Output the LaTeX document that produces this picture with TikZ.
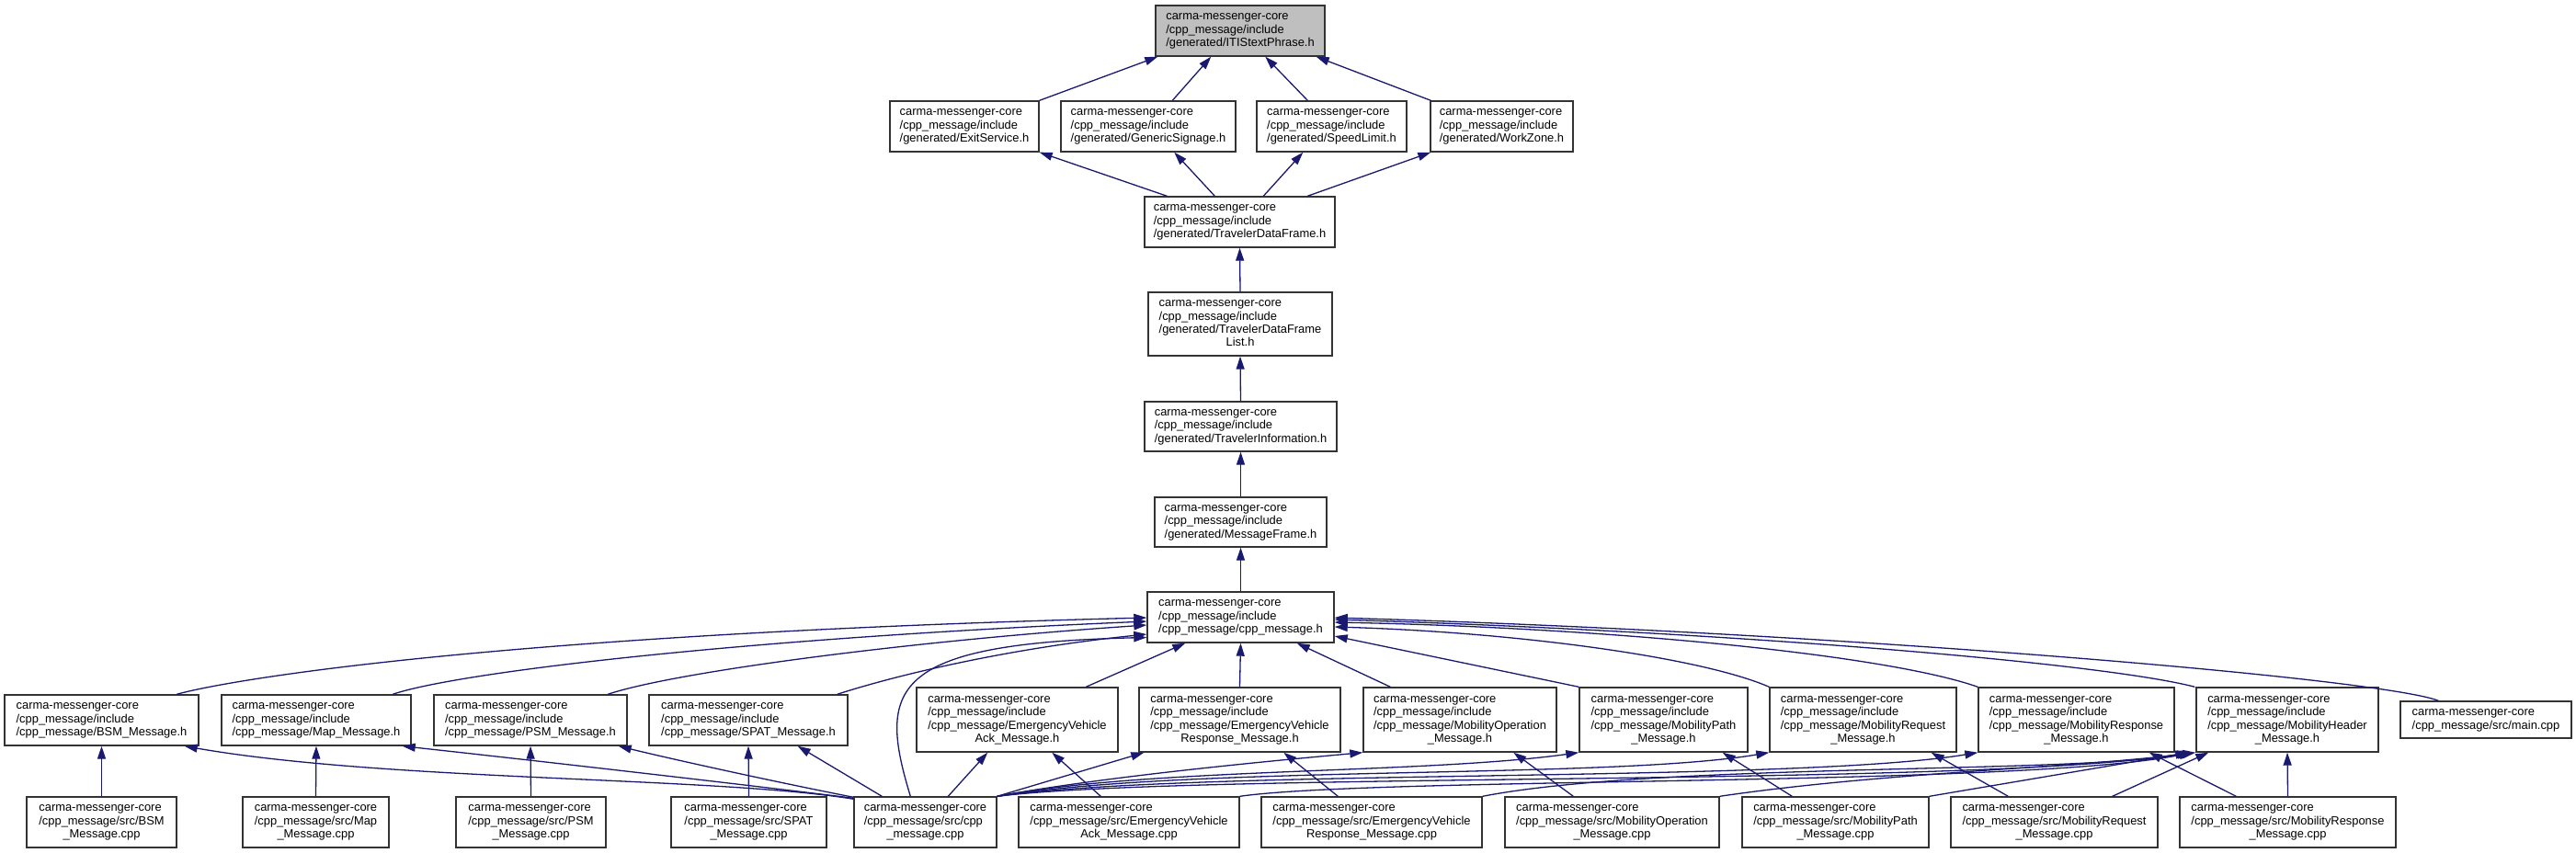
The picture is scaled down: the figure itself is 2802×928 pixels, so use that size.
\documentclass[tikz,border=0pt]{standalone}
\usepackage{fontspec}
\setmainfont{Liberation Sans}
\usetikzlibrary{arrows.meta}
\definecolor{edgeblue}{HTML}{191970}
\definecolor{boxline}{HTML}{333333}
\definecolor{rootfill}{HTML}{BFBFBF}
\newcommand\ntext[1]{\begin{tabular}{@{}l@{}}#1\end{tabular}}
\newcommand\ctr[1]{\multicolumn{1}{@{}c@{}}{#1}}
\begin{document}
\begin{tikzpicture}[x=1pt,y=-1pt,
  box/.style={draw=boxline, line width=1.4pt, fill=white, inner sep=0pt,
    font=\fontsize{12.9}{14.4}\selectfont, text=black},
  root/.style={box, fill=rootfill},
  edge/.style={draw=edgeblue, line width=1.3pt, -{Triangle[length=14pt,width=9pt]}}]
\useasboundingbox (0,0) rectangle (2802,928);
\fill[white] (0,0) rectangle (2802,928);

% ---- top chain
\node[root, minimum width=184pt, minimum height=55pt] (itis) at (1349,33.5)
  {\ntext{carma-messenger-core\\/cpp\_message/include\\/generated/ITIStextPhrase.h}};
\node[box, minimum width=162pt, minimum height=55pt] (exit) at (1049,137.5)
  {\ntext{carma-messenger-core\\/cpp\_message/include\\/generated/ExitService.h}};
\node[box, minimum width=190pt, minimum height=55pt] (gensig) at (1249,137.5)
  {\ntext{carma-messenger-core\\/cpp\_message/include\\/generated/GenericSignage.h}};
\node[box, minimum width=163pt, minimum height=55pt] (speed) at (1448.5,137.5)
  {\ntext{carma-messenger-core\\/cpp\_message/include\\/generated/SpeedLimit.h}};
\node[box, minimum width=155pt, minimum height=55pt] (work) at (1633.5,137.5)
  {\ntext{carma-messenger-core\\/cpp\_message/include\\/generated/WorkZone.h}};
\node[box, minimum width=207pt, minimum height=55pt] (tdf) at (1348.5,241.5)
  {\ntext{carma-messenger-core\\/cpp\_message/include\\/generated/TravelerDataFrame.h}};
\node[box, minimum width=200pt, minimum height=69pt] (tdfl) at (1349,352.5)
  {\ntext{carma-messenger-core\\/cpp\_message/include\\/generated/TravelerDataFrame\\\ctr{List.h}}};
\node[box, minimum width=209pt, minimum height=54pt] (ti) at (1349.5,464)
  {\ntext{carma-messenger-core\\/cpp\_message/include\\/generated/TravelerInformation.h}};
\node[box, minimum width=187pt, minimum height=54pt] (mf) at (1349.5,568)
  {\ntext{carma-messenger-core\\/cpp\_message/include\\/generated/MessageFrame.h}};
\node[box, minimum width=203pt, minimum height=55pt] (cmh) at (1349.5,671.5)
  {\ntext{carma-messenger-core\\/cpp\_message/include\\/cpp\_message/cpp\_message.h}};

% ---- level 2 headers
\node[box, minimum width=211pt, minimum height=55pt] (bsmh) at (110.5,783.5)
  {\ntext{carma-messenger-core\\/cpp\_message/include\\/cpp\_message/BSM\_Message.h}};
\node[box, minimum width=206pt, minimum height=55pt] (maph) at (344,783.5)
  {\ntext{carma-messenger-core\\/cpp\_message/include\\/cpp\_message/Map\_Message.h}};
\node[box, minimum width=210pt, minimum height=55pt] (psmh) at (577,783.5)
  {\ntext{carma-messenger-core\\/cpp\_message/include\\/cpp\_message/PSM\_Message.h}};
\node[box, minimum width=216pt, minimum height=55pt] (spath) at (814,783.5)
  {\ntext{carma-messenger-core\\/cpp\_message/include\\/cpp\_message/SPAT\_Message.h}};
\node[box, minimum width=219pt, minimum height=70pt] (evackh) at (1106.5,783)
  {\ntext{carma-messenger-core\\/cpp\_message/include\\/cpp\_message/EmergencyVehicle\\\ctr{Ack\_Message.h}}};
\node[box, minimum width=219pt, minimum height=70pt] (evresph) at (1348.5,783)
  {\ntext{carma-messenger-core\\/cpp\_message/include\\/cpp\_message/EmergencyVehicle\\\ctr{Response\_Message.h}}};
\node[box, minimum width=210pt, minimum height=70pt] (mobopH) at (1588,783)
  {\ntext{carma-messenger-core\\/cpp\_message/include\\/cpp\_message/MobilityOperation\\\ctr{\_Message.h}}};
\node[box, minimum width=183pt, minimum height=70pt] (mobpathH) at (1809.5,783)
  {\ntext{carma-messenger-core\\/cpp\_message/include\\/cpp\_message/MobilityPath\\\ctr{\_Message.h}}};
\node[box, minimum width=203pt, minimum height=70pt] (mobreqH) at (2026.5,783)
  {\ntext{carma-messenger-core\\/cpp\_message/include\\/cpp\_message/MobilityRequest\\\ctr{\_Message.h}}};
\node[box, minimum width=213pt, minimum height=70pt] (mobrespH) at (2258.5,783)
  {\ntext{carma-messenger-core\\/cpp\_message/include\\/cpp\_message/MobilityResponse\\\ctr{\_Message.h}}};
\node[box, minimum width=198pt, minimum height=70pt] (mobhdrH) at (2488,783)
  {\ntext{carma-messenger-core\\/cpp\_message/include\\/cpp\_message/MobilityHeader\\\ctr{\_Message.h}}};
\node[box, minimum width=186pt, minimum height=40pt] (mainc) at (2704,783)
  {\ntext{carma-messenger-core\\/cpp\_message/src/main.cpp}};

% ---- level 3 sources
\node[box, minimum width=163pt, minimum height=55pt] (bsmc) at (110.5,894.5)
  {\ntext{carma-messenger-core\\/cpp\_message/src/BSM\\\ctr{\_Message.cpp}}};
\node[box, minimum width=159pt, minimum height=55pt] (mapc) at (343.5,894.5)
  {\ntext{carma-messenger-core\\/cpp\_message/src/Map\\\ctr{\_Message.cpp}}};
\node[box, minimum width=163pt, minimum height=55pt] (psmc) at (577.5,894.5)
  {\ntext{carma-messenger-core\\/cpp\_message/src/PSM\\\ctr{\_Message.cpp}}};
\node[box, minimum width=169pt, minimum height=55pt] (spatc) at (814.5,894.5)
  {\ntext{carma-messenger-core\\/cpp\_message/src/SPAT\\\ctr{\_Message.cpp}}};
\node[box, minimum width=155pt, minimum height=55pt] (cmc) at (1006.5,894.5)
  {\ntext{carma-messenger-core\\/cpp\_message/src/cpp\\\ctr{\_message.cpp}}};
\node[box, minimum width=240pt, minimum height=55pt] (evackc) at (1228,894.5)
  {\ntext{carma-messenger-core\\/cpp\_message/src/EmergencyVehicle\\\ctr{Ack\_Message.cpp}}};
\node[box, minimum width=240pt, minimum height=55pt] (evrespc) at (1492,894.5)
  {\ntext{carma-messenger-core\\/cpp\_message/src/EmergencyVehicle\\\ctr{Response\_Message.cpp}}};
\node[box, minimum width=233pt, minimum height=55pt] (mobopc) at (1753.5,894.5)
  {\ntext{carma-messenger-core\\/cpp\_message/src/MobilityOperation\\\ctr{\_Message.cpp}}};
\node[box, minimum width=203pt, minimum height=55pt] (mobpathc) at (1996.5,894.5)
  {\ntext{carma-messenger-core\\/cpp\_message/src/MobilityPath\\\ctr{\_Message.cpp}}};
\node[box, minimum width=225pt, minimum height=55pt] (mobreqc) at (2234.5,894.5)
  {\ntext{carma-messenger-core\\/cpp\_message/src/MobilityRequest\\\ctr{\_Message.cpp}}};
\node[box, minimum width=235pt, minimum height=55pt] (mobrespc) at (2488.5,894.5)
  {\ntext{carma-messenger-core\\/cpp\_message/src/MobilityResponse\\\ctr{\_Message.cpp}}};

% ---- edges: top part
\draw[edge] (exit.north east) -- ([xshift=3pt]itis.south west);
\draw[edge] ([xshift=122pt]gensig.north west) -- ([xshift=61pt]itis.south west);
\draw[edge] ([xshift=56pt]speed.north west) -- ([xshift=120pt]itis.south west);
\draw[edge] ([xshift=1pt]work.north west) -- ([xshift=-10pt]itis.south east);
\draw[edge] ([xshift=25pt]tdf.north west) -- (exit.south east);
\draw[edge] ([xshift=77pt]tdf.north west) -- ([xshift=124pt]gensig.south west);
\draw[edge] ([xshift=130pt]tdf.north west) -- ([xshift=51pt]speed.south west);
\draw[edge] ([xshift=178pt]tdf.north west) -- ([xshift=1pt]work.south west);
\draw[edge] (tdfl.north) -- (tdf.south);
\draw[edge] (ti.north) -- (tdfl.south);
\draw[edge] (mf.north) -- (ti.south);
\draw[edge] (cmh.north) -- (mf.south);

% ---- edges into cpp_message.h
\draw[edge] ([xshift=188pt]bsmh.north west) .. controls (255,738) and (550,690) .. ([yshift=-0.5pt]cmh.west);
\draw[edge] ([xshift=187pt]maph.north west) .. controls (495,732) and (800,695) .. ([yshift=-4.5pt]cmh.west);
\draw[edge] ([xshift=190pt]psmh.north west) .. controls (730,732) and (980,698) .. ([yshift=-8.5pt]cmh.west);
\draw[edge] ([xshift=-12pt]spath.north east) .. controls (980,733) and (1100,705) .. ([yshift=-18.5pt]cmh.west);
\draw[edge] ([xshift=62pt]cmc.north west) .. controls (955,750) and (965,700) .. ([yshift=-22pt]cmh.west);
\draw[edge] ([xshift=185pt]evackh.north west) -- ([xshift=42pt]cmh.south west);
\draw[edge] (evresph.north) -- (cmh.south);
\draw[edge] ([xshift=30pt]mobopH.north west) -- ([xshift=-41pt]cmh.south east);
\draw[edge] (mobpathH.north west) -- ([yshift=-20.5pt]cmh.east);
\draw[edge] (mobreqH.north west) .. controls (1850,715) and (1650,688) .. ([yshift=-10.5pt]cmh.east);
\draw[edge] (mobrespH.north west) .. controls (2050,712) and (1750,683) .. ([yshift=-5.5pt]cmh.east);
\draw[edge] ([xshift=-1pt]mobhdrH.north west) .. controls (2290,722) and (1900,688) .. ([yshift=-2.5pt]cmh.east);
\draw[edge] ([xshift=42pt]mainc.north west) .. controls (2590,738) and (2000,688) .. ([yshift=-0.5pt]cmh.east);

% ---- edges from level-3 sources
\draw[edge] (bsmc.north) -- (bsmh.south);
\draw[edge] (mapc.north) -- (maph.south);
\draw[edge] (psmc.north) -- (psmh.south);
\draw[edge] (spatc.north) -- (spath.south);

\draw[edge] ([yshift=-3pt]cmc.north west) .. controls (780,845) and (420,850) .. ([xshift=-16pt]bsmh.south east);
\draw[edge] ([yshift=-2pt]cmc.north west) .. controls (780,850) and (560,825) .. ([xshift=-10pt]maph.south east);
\draw[edge] ([yshift=-1pt]cmc.north west) .. controls (850,852) and (740,828) .. ([xshift=-10pt]psmh.south east);
\draw[edge] ([xshift=31pt]cmc.north west) -- ([xshift=-55pt]spath.south east);
\draw[edge] ([xshift=103pt]cmc.north west) -- ([xshift=78pt]evackh.south west);
\draw[edge] (cmc.north east) -- ([xshift=6pt]evresph.south west);
\draw[edge] (cmc.north east) .. controls (1200,845) and (1380,828) .. (mobopH.south west);
\draw[edge] (cmc.north east) .. controls (1250,835) and (1550,842) .. (mobpathH.south west);
\draw[edge] (cmc.north east) .. controls (1300,832) and (1750,848) .. (mobreqH.south west);
\draw[edge] (cmc.north east) .. controls (1300,836) and (1950,852) .. (mobrespH.south west);
\draw[edge] (cmc.north east) .. controls (1300,840) and (2150,856) .. ([xshift=-6pt]mobhdrH.south west);

\draw[edge] ([xshift=90pt]evackc.north west) -- ([xshift=148pt]evackh.south west);
\draw[edge] (evackc.north east) .. controls (1500,845) and (2200,856) .. ([xshift=-4pt]mobhdrH.south west);
\draw[edge] ([xshift=84pt]evrespc.north west) -- ([xshift=158pt]evresph.south west);
\draw[edge] (evrespc.north east) .. controls (1800,830) and (2250,842) .. ([xshift=-2pt]mobhdrH.south west);
\draw[edge] ([xshift=75pt]mobopc.north west) -- ([xshift=164pt]mobopH.south west);
\draw[edge] (mobopc.north east) .. controls (2050,840) and (2250,836) .. (mobhdrH.south west);
\draw[edge] ([xshift=55pt]mobpathc.north west) -- ([xshift=-28pt]mobpathH.south east);
\draw[edge] (mobpathc.north east) -- ([xshift=-8pt]mobhdrH.south west);
\draw[edge] ([xshift=63pt]mobreqc.north west) -- ([xshift=-28pt]mobreqH.south east);
\draw[edge] ([xshift=-50pt]mobreqc.north east) -- ([xshift=14pt]mobhdrH.south west);
\draw[edge] ([xshift=62pt]mobrespc.north west) -- ([xshift=-28pt]mobrespH.south east);
\draw[edge] (mobrespc.north) -- (mobhdrH.south);
\end{tikzpicture}
\end{document}
